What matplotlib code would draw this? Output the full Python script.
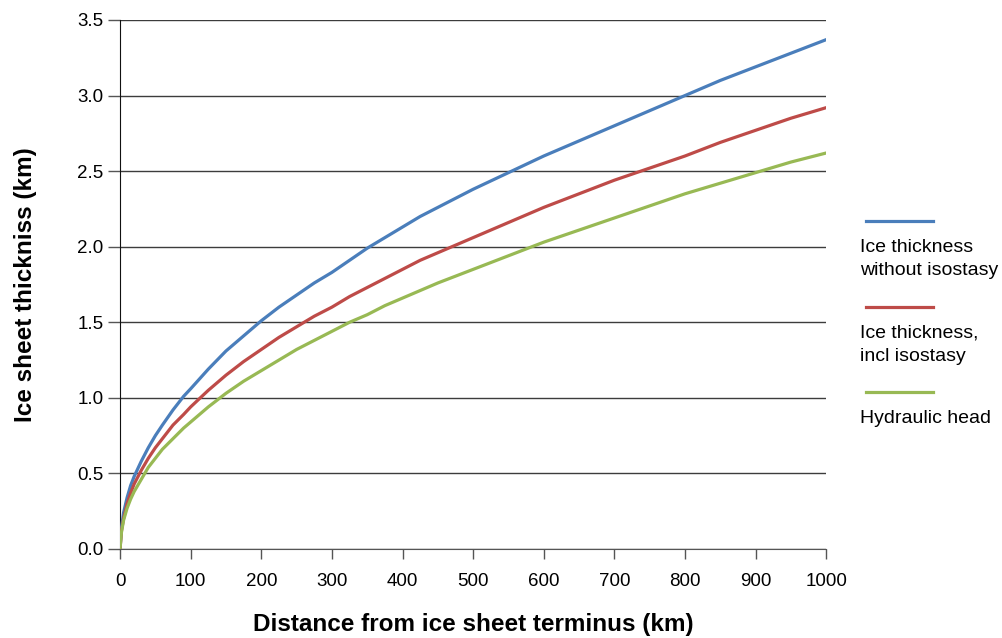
import matplotlib.pyplot as plt
from matplotlib.lines import Line2D

plt.rcParams['font.family'] = ['Liberation Sans', 'DejaVu Sans']

distance_km = [0, 2, 5, 10, 15, 20, 30, 40, 50, 60, 75, 90, 100, 125, 150, 175,
               200, 225, 250, 275, 300, 325, 350, 375, 400, 425, 450, 500, 550,
               600, 650, 700, 750, 800, 850, 900, 950, 1000]

thickness_no_iso = [0, 0.14, 0.24, 0.34, 0.42, 0.48, 0.58, 0.67, 0.75, 0.82,
                    0.92, 1.01, 1.06, 1.19, 1.31, 1.41, 1.51, 1.60, 1.68, 1.76,
                    1.83, 1.91, 1.99, 2.06, 2.13, 2.20, 2.26, 2.38, 2.49, 2.60,
                    2.70, 2.80, 2.90, 3.00, 3.10, 3.19, 3.28, 3.37]
thickness_iso = [0, 0.12, 0.20, 0.30, 0.37, 0.43, 0.52, 0.60, 0.67, 0.73,
                 0.82, 0.89, 0.94, 1.05, 1.15, 1.24, 1.32, 1.40, 1.47, 1.54,
                 1.60, 1.67, 1.73, 1.79, 1.85, 1.91, 1.96, 2.06, 2.16, 2.26,
                 2.35, 2.44, 2.52, 2.60, 2.69, 2.77, 2.85, 2.92]
hydraulic_head = [0, 0.11, 0.19, 0.27, 0.33, 0.38, 0.46, 0.54, 0.60, 0.66,
                  0.73, 0.80, 0.84, 0.94, 1.03, 1.11, 1.18, 1.25, 1.32, 1.38,
                  1.44, 1.50, 1.55, 1.61, 1.66, 1.71, 1.76, 1.85, 1.94, 2.03,
                  2.11, 2.19, 2.27, 2.35, 2.42, 2.49, 2.56, 2.62]

series = [
    (thickness_no_iso, '#4a7ebb', ['Ice thickness', 'without isostasy']),
    (thickness_iso, '#be4b48', ['Ice thickness,', 'incl isostasy']),
    (hydraulic_head, '#98b954', ['Hydraulic head']),
]

x_ticks = list(range(0, 1001, 100))
y_ticks = [0.0, 0.5, 1.0, 1.5, 2.0, 2.5, 3.0, 3.5]

fig = plt.figure(figsize=(10.02, 6.38), dpi=100)
ax = fig.add_axes([0.1198, 0.1395, 0.8246 - 0.1198, 0.9687 - 0.1395])

for values, color, label in series:
    ax.plot(distance_km, values, color=color, lw=2.3, solid_capstyle='round',
            solid_joinstyle='round', zorder=3)

ax.set_xlim(0, 1000)
ax.set_ylim(0, 3.5)
ax.set_xticks(x_ticks)
ax.set_yticks(y_ticks)
ax.set_yticklabels([f'{v:.1f}' for v in y_ticks])
ax.yaxis.grid(True, color='#3c3c3c', lw=1.0, zorder=1)
ax.tick_params(axis='y', length=9, width=1.0, color='#555555', labelsize=13.5, pad=3)
ax.tick_params(axis='x', length=7.5, width=1.0, color='#555555', labelsize=13.5, pad=10)

for side in ['top', 'right']:
    ax.spines[side].set_visible(False)
ax.spines['left'].set_color('#111111')
ax.spines['bottom'].set_color('#555555')

ax.set_xlabel('Distance from ice sheet terminus (km)', fontsize=17.5, fontweight='bold', labelpad=16)
ax.set_ylabel('Ice sheet thickniss (km)', fontsize=17.5, fontweight='bold', labelpad=29)

# legend drawn by hand: short line above each entry's text
legend_rows = [(221, [252, 275]), (307, [337, 361]), (392, [423])]
for (values, color, lines), (line_y, baselines) in zip(series, legend_rows):
    fy = 1 - line_y / 638
    fig.add_artist(Line2D([866 / 1002, 933 / 1002], [fy, fy], color=color, lw=2.3,
                          transform=fig.transFigure))
    for txt, by in zip(lines, baselines):
        fig.text(860 / 1002, 1 - by / 638, txt, fontsize=14, va='baseline', ha='left')

fig.savefig('out.png', dpi=100)
